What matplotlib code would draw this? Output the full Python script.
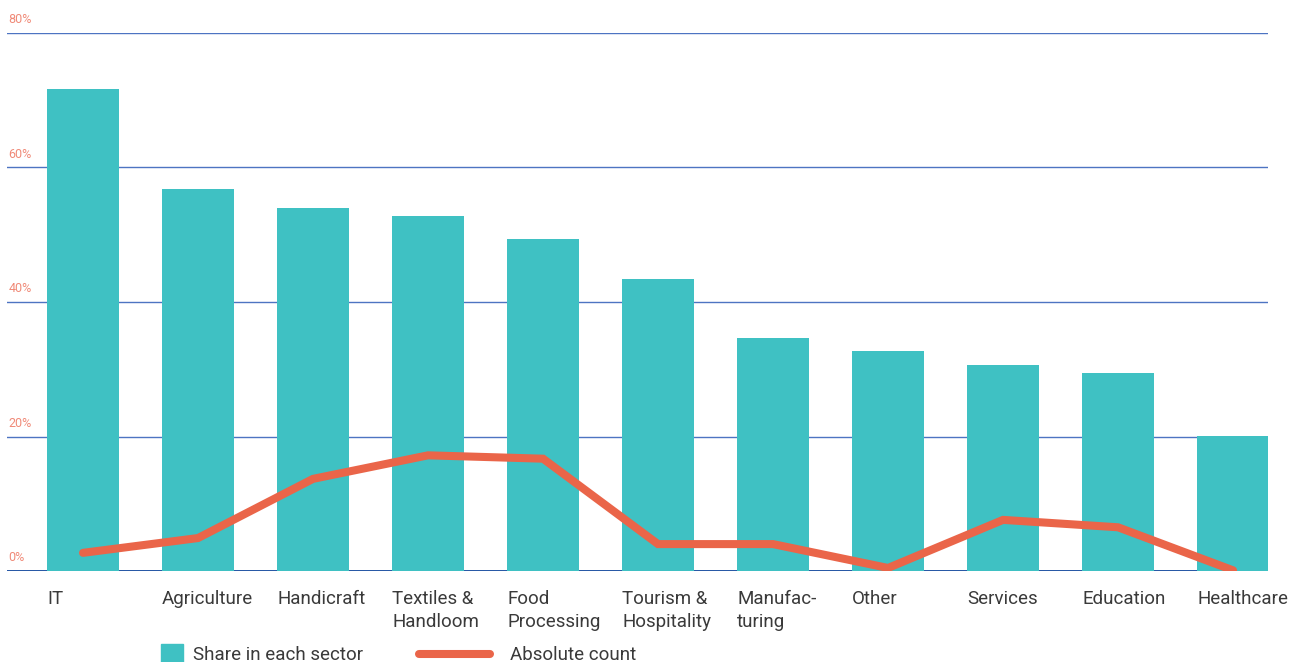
import matplotlib

matplotlib.use('agg')
import matplotlib.pyplot as plt
from matplotlib.patches import Rectangle
from matplotlib.lines import Line2D
import numpy as np

plt.rcParams['font.family'] = ['Roboto', 'DejaVu Sans']

sectors = ['IT', 'Agriculture', 'Handicraft', 'Textiles &\nHandloom', 'Food\nProcessing',
           'Tourism &\nHospitality', 'Manufac-\nturing', 'Other', 'Services', 'Education',
           'Healthcare']
share = [71.7, 56.8, 54.0, 52.8, 49.4, 43.4, 34.6, 32.7, 30.6, 29.4, 20.1]
absolute = [2.7, 4.9, 13.7, 17.2, 16.7, 4.0, 4.0, 0.45, 7.6, 6.5, 0.1]
yticks = [0, 20, 40, 60, 80]

TEAL = '#3fc1c3'
ORANGE = '#ea6549'
GRID = '#4d74c2'
AXIS = '#2455a4'
TICK = '#f08a78'
TEXT = '#3a3a3a'

W, H = 1295, 662
fig = plt.figure(figsize=(W / 100, H / 100), dpi=100)
ax = fig.add_axes([7 / W, (H - 571) / H, 1261 / W, 538 / H])

x = np.arange(len(sectors))
bw = 0.626
ax.bar(x, share, width=bw, color=TEAL, zorder=2)
ax.plot(x, absolute, color=ORANGE, lw=5.8, solid_capstyle='round',
        solid_joinstyle='miter', zorder=3)

ax.set_xlim(-0.661, 10.304)
ax.set_ylim(0, 80)
for v in yticks[1:]:
    ax.axhline(v, color=GRID, lw=1.0, zorder=1)
ax.axhline(0, color=AXIS, lw=1.4, zorder=1)
for s in ax.spines.values():
    s.set_visible(False)
ax.set_xticks([])
ax.set_yticks([])

# percentage labels sit just above each gridline
tr = matplotlib.transforms.blended_transform_factory(ax.transAxes, ax.transData)
for v in yticks:
    ax.text(0.001, v + 1.0, f'{v}%', transform=tr, color=TICK, fontsize=9,
            ha='left', va='bottom')

# sector names, left aligned with each bar
for xi, name in zip(x, sectors):
    ax.annotate(name, (xi - bw / 2, 0), xytext=(0, -14), textcoords='offset points',
                ha='left', va='top', fontsize=13.5, color=TEXT, linespacing=1.35,
                annotation_clip=False)

# legend
fig.add_artist(Rectangle((161 / W, (H - 662) / H), 22 / W, 18 / H,
                         transform=fig.transFigure, color=TEAL))
fig.text(193 / W, (H - 655) / H, 'Share in each sector', fontsize=13.5, color=TEXT,
         ha='left', va='center')
fig.add_artist(Line2D([419 / W, 490 / W], [(H - 654) / H] * 2, transform=fig.transFigure,
                      color=ORANGE, lw=5.8, solid_capstyle='round'))
fig.text(510 / W, (H - 655) / H, 'Absolute count', fontsize=13.5, color=TEXT,
         ha='left', va='center')

fig.savefig('out.png', dpi=100)
